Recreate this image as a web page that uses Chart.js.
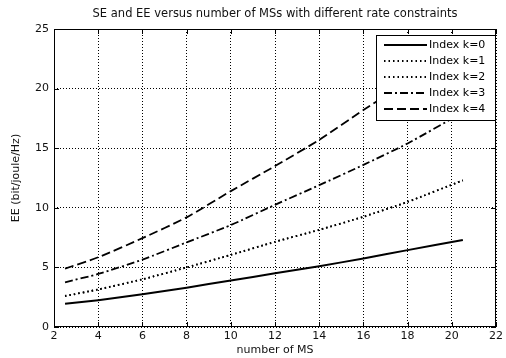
<!DOCTYPE html>
<html>
<head>
<meta charset="utf-8">
<script src="https://cdn.jsdelivr.net/npm/chart.js@4/dist/chart.umd.min.js"></script>
<style>
  html, body { margin: 0; padding: 0; background: #fff; }
  #wrap { width: 506px; height: 358px; }
</style>
</head>
<body>
<div id="wrap"><canvas id="eeChart"></canvas></div>
<script>
const msCounts = [2.5, 4, 6, 8, 10, 12, 14, 16, 18, 20.5];

const eeK0 = [1.95, 2.25, 2.75, 3.3, 3.9, 4.5, 5.1, 5.75, 6.45, 7.3];
const eeK1 = [2.6, 3.15, 4.0, 5.0, 6.05, 7.15, 8.15, 9.25, 10.5, 12.3];
const eeK2 = [2.6, 3.15, 4.0, 5.0, 6.05, 7.15, 8.15, 9.25, 10.5, 12.3];
const eeK3 = [3.75, 4.45, 5.65, 7.1, 8.55, 10.25, 11.9, 13.6, 15.4, 18.0];
const eeK4 = [4.9, 5.85, 7.45, 9.2, 11.4, 13.5, 15.7, 18.2, 20.6, 23.6];

const seriesLabels = ['Index k=0', 'Index k=1', 'Index k=2', 'Index k=3', 'Index k=4'];
const xTicks = [2, 4, 6, 8, 10, 12, 14, 16, 18, 20, 22];
const yTicks = [0, 5, 10, 15, 20, 25];
const chartTitle = 'SE and EE versus number of MSs with different rate constraints';

const seriesValues = [eeK0, eeK1, eeK2, eeK3, eeK4];
const dashes = [[], [1.5, 3], [1.5, 3], [8, 3, 2, 3], [9, 4]];
const widths = [2, 1.8, 1.8, 1.8, 1.8];

const FONT = '"DejaVu Sans", Verdana, sans-serif';

const toPoints = vals => vals.map((v, i) => ({ x: msCounts[i], y: v }));

const datasets = seriesValues.map((vals, i) => ({
    label: seriesLabels[i],
    data: toPoints(vals),
    borderColor: '#000',
    backgroundColor: '#000',
    borderWidth: widths[i],
    borderDash: dashes[i],
    pointRadius: 0,
    tension: 0.2,
    fill: false
}));

// MATLAB style box, inward ticks, title over the axes and boxed legend
const matlabBox = {
    id: 'matlabBox',
    afterDatasetsDraw(chart) {
        const { ctx, chartArea: a, scales } = chart;
        ctx.save();
        ctx.strokeStyle = '#000';
        ctx.lineWidth = 1;
        ctx.setLineDash([]);
        ctx.strokeRect(a.left + 0.5, a.top + 0.5, a.right - a.left - 1, a.bottom - a.top - 1);
        ctx.beginPath();
        xTicks.forEach(t => {
            const px = Math.round(scales.x.getPixelForValue(t)) + 0.5;
            ctx.moveTo(px, a.bottom); ctx.lineTo(px, a.bottom - 5);
            ctx.moveTo(px, a.top); ctx.lineTo(px, a.top + 5);
        });
        yTicks.forEach(t => {
            const py = Math.round(scales.y.getPixelForValue(t)) + 0.5;
            ctx.moveTo(a.left, py); ctx.lineTo(a.left + 5, py);
            ctx.moveTo(a.right, py); ctx.lineTo(a.right - 5, py);
        });
        ctx.stroke();

        // title, centred over the axes like MATLAB does
        ctx.fillStyle = '#111';
        ctx.font = '11.5px ' + FONT;
        ctx.textAlign = 'center';
        ctx.textBaseline = 'middle';
        ctx.fillText(chartTitle, (a.left + a.right) / 2, a.top - 15);

        // legend
        const lx = 376, ly = 35, lw = 119, lh = 85;
        ctx.fillStyle = '#fff';
        ctx.fillRect(lx, ly, lw, lh);
        ctx.strokeRect(lx + 0.5, ly + 0.5, lw, lh);
        ctx.font = '11px ' + FONT;
        ctx.textAlign = 'left';
        seriesLabels.forEach((lab, i) => {
            const y = ly + 10 + i * 16;
            ctx.beginPath();
            ctx.setLineDash(dashes[i]);
            ctx.lineWidth = widths[i];
            ctx.moveTo(384, y); ctx.lineTo(427, y);
            ctx.stroke();
            ctx.setLineDash([]);
            ctx.fillStyle = '#000';
            ctx.fillText(lab, 429, y + 0.5);
        });
        ctx.restore();
    }
};

const gridOpts = {
    color: '#000',
    lineWidth: 1,
    drawTicks: false
};
const dottedBorder = { display: false, dash: [1, 2] };

new Chart(document.getElementById('eeChart'), {
    type: 'line',
    data: { datasets: datasets },
    options: {
        responsive: true,
        maintainAspectRatio: false,
        animation: false,
        layout: { padding: { left: 0, right: 0, top: 29, bottom: 0 } },
        plugins: {
            legend: { display: false },
            tooltip: { enabled: false },
            title: { display: false }
        },
        scales: {
            x: {
                type: 'linear',
                min: 2,
                max: 22,
                afterBuildTicks: s => { s.ticks = xTicks.map(v => ({ value: v })); },
                afterFit: s => { s.height = 31; },
                grid: gridOpts,
                border: dottedBorder,
                ticks: {
                    color: '#111',
                    padding: 3,
                    font: { family: FONT, size: 11 }
                },
                title: {
                    display: true,
                    text: 'number of MS',
                    color: '#111',
                    padding: { top: 0, bottom: 1 },
                    font: { family: FONT, size: 11 }
                }
            },
            y: {
                min: 0,
                max: 25,
                afterBuildTicks: s => { s.ticks = yTicks.map(v => ({ value: v })); },
                afterFit: s => { s.width = 54; },
                grid: gridOpts,
                border: dottedBorder,
                ticks: {
                    color: '#111',
                    padding: 5,
                    font: { family: FONT, size: 11 }
                },
                title: {
                    display: true,
                    text: 'EE (bit/joule/Hz)',
                    color: '#111',
                    padding: { top: 10, bottom: 0 },
                    font: { family: FONT, size: 11 }
                }
            }
        }
    },
    plugins: [matlabBox]
});
</script>
</body>
</html>
